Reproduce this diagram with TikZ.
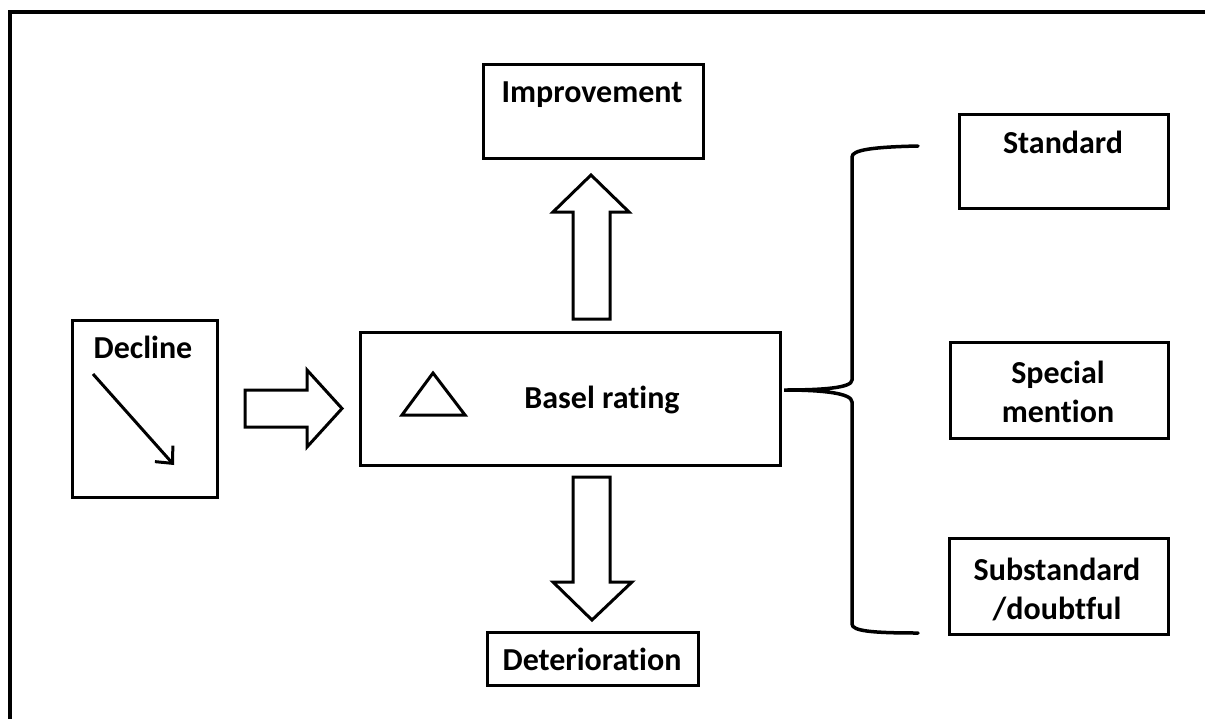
\documentclass[tikz,border=0pt]{standalone}
\usepackage{fontspec}
\setmainfont{Carlito}[RawFeature={-liga;-clig;-dlig}]
\usetikzlibrary{arrows.meta}
\begin{document}
\begin{tikzpicture}[x=1pt,y=-1pt,
  boxnode/.style={draw=black,line width=3pt,inner sep=0pt,rectangle},
  txt/.style={font=\fontsize{32}{39}\selectfont\bfseries,inner sep=0pt,anchor=base,align=center},
  fat/.style={draw=black,line width=3pt,fill=white,line join=miter},
  thin/.style={draw=black,line width=3pt}]
\useasboundingbox (0,0) rectangle (1205,718);
\clip (0,0) rectangle (1205,718);
\fill[white] (0,0) rectangle (1205,718);
% outer frame (only left and top edges visible)
\draw[line width=4pt] (10,740) -- (10,12) -- (1230,12);
% boxes
\node[boxnode,minimum width=220pt,minimum height=94pt] (impr) at (593,111) {};
\node[boxnode,minimum width=145pt,minimum height=177pt] (decl) at (144.5,408.5) {};
\node[boxnode,minimum width=420pt,minimum height=133pt] (basel) at (570,398.5) {};
\node[boxnode,minimum width=211pt,minimum height=53pt] (deter) at (592.5,658.5) {};
\node[boxnode,minimum width=209pt,minimum height=94pt] (std) at (1063.5,161) {};
\node[boxnode,minimum width=218pt,minimum height=96pt] (spec) at (1059,390) {};
\node[boxnode,minimum width=219pt,minimum height=96pt] (sub) at (1058.5,586) {};
% texts
\node[txt] (timpr) at (592,102) {Improvement};
\node[txt] (tdecl) at (143,358) {Decline};
\node[txt] (tbasel) at (602,408) {Basel rating};
\node[txt] (tdeter) at (592,670) {Deterioration};
\node[txt] (tstd) at (1063,153) {Standard};
\node[txt,anchor=center] (tspec) at (1058,392) {Special\\mention};
\node[txt,anchor=center] (tsub) at (1057,589) {Substandard\\/doubtful};
% thin arrow in decline box
\coordinate (da) at (93,374);
\coordinate (db) at (174,465);
\draw[thin,-{Straight Barb[length=13pt,width=24pt,line width=3pt]}] (da) -- (db);
% triangle
\draw[thin,line join=miter] (402,415) -- (465,415) -- (433,373) -- cycle;
% fat arrows
\draw[fat] (245,390) -- (307,390) -- (307,370) -- (342,408.5) -- (307,447) -- (307,427) -- (245,427) -- cycle;
\draw[fat] (573,319) -- (573,212) -- (553,212) -- (591,175) -- (629,212) -- (610,212) -- (610,319) -- cycle;
\draw[fat] (573,477) -- (573,582) -- (553,582) -- (592,620) -- (632,582) -- (610,582) -- (610,477) -- cycle;
% brace
\draw[line width=3.5pt,line cap=round]
  (918,146) .. controls (872,147) and (852,150) .. (852,157)
  -- (852,380) .. controls (852,388) and (822,390) .. (784,390)
  .. controls (822,390) and (852,393) .. (852,402)
  -- (852,624) .. controls (852,631) and (872,633) .. (918,633);
\end{tikzpicture}
\end{document}
